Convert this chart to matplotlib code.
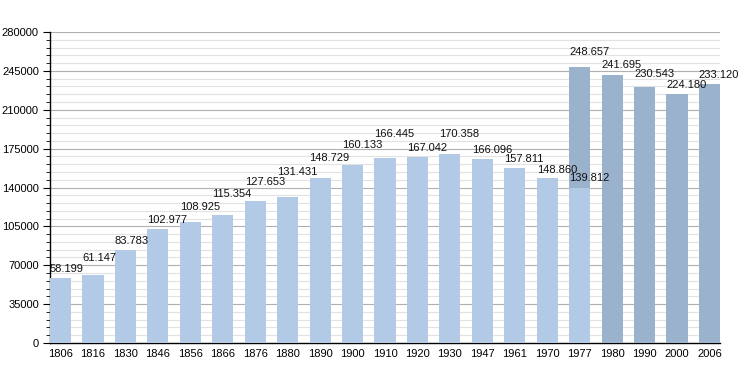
import numpy as np
import matplotlib.pyplot as plt
from matplotlib.ticker import MultipleLocator

years = ['1806', '1816', '1830', '1846', '1856', '1866', '1876', '1880', '1890', '1900',
         '1910', '1920', '1930', '1947', '1961', '1970', '1977', '1980', '1990', '2000', '2006']
population = [58199, 61147, 83783, 102977, 108925, 115354, 127653, 131431, 148729, 160133,
              166445, 167042, 170358, 166096, 157811, 148860, 248657, 241695, 230543, 224180, 233120]
# 1977: the later (darker) census count sits behind an older figure
overlay_year = '1977'
overlay_value = 139812
dark_from = '1977'

# label lift above the bar top, in pixels (staggered like the original)
label_lift = [9, 17, 9, 9, 15, 21, 19, 25, 20, 20, 24, 9, 20, 9, 9, 8, 15, 10, 13, 9, 9]

plt.rcParams['font.family'] = ['Liberation Sans', 'DejaVu Sans']

fig = plt.figure(figsize=(7.5, 3.73), dpi=100)
ax = fig.add_axes([50 / 750, 30 / 373, 670 / 750, 311 / 373])

light = '#b2cae5'
dark = '#9bb2cd'
width = 0.65
x = np.arange(len(years))
first_dark = years.index(dark_from)
colors = [light if i < first_dark else dark for i in range(len(years))]

ax.bar(x, population, width=width, color=colors, zorder=3)
oi = years.index(overlay_year)
ax.bar(x[oi], overlay_value, width=width, color=light, zorder=4)

px = 280000 / 311  # data units per pixel
for i, v in enumerate(population):
    ax.text(x[i] - width / 2, v + label_lift[i] * px, f'{v / 1000:.3f}',
            ha='left', va='center', fontsize=8, color='#111111', zorder=5)
ax.text(x[oi] - width / 2, overlay_value + 10 * px, f'{overlay_value / 1000:.3f}',
        ha='left', va='center', fontsize=8, color='#111111', zorder=5)

ax.set_xlim(-width / 2, len(years) - 1 + width / 2)
ax.set_ylim(0, 280000)
ax.set_xticks(x)
ax.set_xticklabels(years)
ax.yaxis.set_major_locator(MultipleLocator(35000))
ax.yaxis.set_minor_locator(MultipleLocator(7000))
ax.grid(axis='y', which='major', color='#b0b0b0', linewidth=0.8, zorder=0)
ax.grid(axis='y', which='minor', color='#e2e2e2', linewidth=0.8, zorder=0)
ax.tick_params(axis='x', length=0, labelsize=8, pad=4)
ax.tick_params(axis='y', which='major', length=5, labelsize=8, pad=3)
ax.tick_params(axis='y', which='minor', length=3)
for s in ['top', 'right']:
    ax.spines[s].set_visible(False)
ax.spines['left'].set_linewidth(1)
ax.spines['bottom'].set_linewidth(1)

fig.savefig('out.png', dpi=100)
